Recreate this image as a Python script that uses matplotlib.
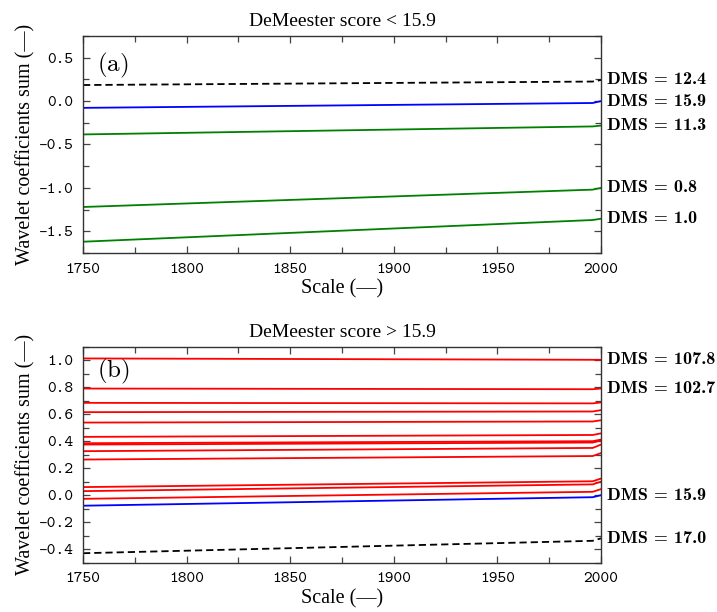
import matplotlib
matplotlib.use('Agg')
import matplotlib.pyplot as plt
from matplotlib.ticker import MultipleLocator, FormatStrFormatter

plt.rcParams['axes.unicode_minus'] = False
plt.rcParams['mathtext.fontset'] = 'cm'

# x positions (scale) at which values were read
scale = [1750, 1996, 2000]

# ---- panel (a): DeMeester score < 15.9 ----
a_dms124 = [0.185, 0.225, 0.243]
a_dms159 = [-0.078, -0.022, 0.0]
a_dms113 = [-0.384, -0.292, -0.282]
a_dms08 = [-1.22, -1.02, -1.0]
a_dms10 = [-1.62, -1.37, -1.355]

# ---- panel (b): DeMeester score > 15.9 ----
b_red_1078 = [1.013, 1.003, 1.003]
b_red_1027 = [0.79, 0.785, 0.79]
b_red_others = [
    [0.684, 0.680, 0.687],
    [0.615, 0.620, 0.630],
    [0.538, 0.546, 0.555],
    [0.432, 0.446, 0.458],
    [0.385, 0.400, 0.412],
    [0.375, 0.390, 0.405],
    [0.326, 0.350, 0.375],
    [0.264, 0.290, 0.312],
    [0.060, 0.103, 0.123],
    [0.030, 0.080, 0.100],
    [-0.027, 0.025, 0.045],
]
b_dms159 = [-0.078, -0.015, 0.0]
b_dms170 = [-0.43, -0.338, -0.32]

fig = plt.figure(figsize=(7.17, 6.12), dpi=100)
ax1 = fig.add_axes([0.1158, 0.5866, 0.7224, 0.3546])
ax2 = fig.add_axes([0.1158, 0.0806, 0.7224, 0.3529])

lw = 1.3
serif = 'Liberation Serif'


def style(ax, ymaj, ymin):
    ax.set_xlim(1750, 2000)
    ax.xaxis.set_major_locator(MultipleLocator(50))
    ax.xaxis.set_minor_locator(MultipleLocator(25))
    ax.yaxis.set_major_locator(MultipleLocator(ymaj))
    ax.yaxis.set_minor_locator(MultipleLocator(ymin))
    ax.yaxis.set_major_formatter(FormatStrFormatter('%.1f'))
    ax.tick_params(which='both', direction='in', top=True, right=True,
                   color='#444444', pad=7)
    ax.tick_params(which='major', length=5, width=0.9)
    ax.tick_params(which='minor', length=4, width=0.9)
    for sp in ax.spines.values():
        sp.set_color('#333333')
        sp.set_linewidth(1.0)
    ax.set_xlabel('Scale (—)', family=serif, fontsize=14.5, labelpad=2)
    ax.set_ylabel('Wavelet coefficients sum (—)', family=serif, fontsize=14.5, labelpad=2)


def tag(ax, y, text):
    ax.annotate(text, xy=(1, y),
                xycoords=('axes fraction', 'data'), xytext=(4.5, 0),
                textcoords='offset points', va='center', ha='left',
                fontsize=13, family='cmb10', annotation_clip=False)


# panel (a)
ax1.plot(scale, a_dms124, color='black', lw=lw, ls=(0, (4, 2.2)))
ax1.plot(scale, a_dms159, color='blue', lw=lw)
ax1.plot(scale, a_dms113, color='green', lw=lw)
ax1.plot(scale, a_dms08, color='green', lw=lw)
ax1.plot(scale, a_dms10, color='green', lw=lw)
ax1.set_ylim(-1.75, 0.75)
style(ax1, 0.5, 0.25)
ax1.set_title('DeMeester score < 15.9', family=serif, fontsize=14, pad=7)
ax1.text(0.027, 0.865, r'$\mathrm{(a)}$', transform=ax1.transAxes,
         fontsize=18, va='center', ha='left')
tag(ax1, a_dms124[-1], 'DMS = 12.4')
tag(ax1, a_dms159[-1], 'DMS = 15.9')
tag(ax1, a_dms113[-1], 'DMS = 11.3')
tag(ax1, a_dms08[-1], 'DMS = 0.8')
tag(ax1, a_dms10[-1], 'DMS = 1.0')

# panel (b)
ax2.plot(scale, b_red_1078, color='red', lw=lw)
ax2.plot(scale, b_red_1027, color='red', lw=lw)
for s in b_red_others:
    ax2.plot(scale, s, color='red', lw=lw)
ax2.plot(scale, b_dms159, color='blue', lw=lw)
ax2.plot(scale, b_dms170, color='black', lw=lw, ls=(0, (4, 2.2)))
ax2.set_ylim(-0.5, 1.1)
style(ax2, 0.2, 0.1)
ax2.set_title('DeMeester score > 15.9', family=serif, fontsize=14, pad=7)
ax2.text(0.027, 0.885, r'$\mathrm{(b)}$', transform=ax2.transAxes,
         fontsize=18, va='center', ha='left')
tag(ax2, b_red_1078[-1], 'DMS = 107.8')
tag(ax2, b_red_1027[-1], 'DMS = 102.7')
tag(ax2, b_dms159[-1], 'DMS = 15.9')
tag(ax2, b_dms170[-1], 'DMS = 17.0')

for ax in (ax1, ax2):
    for lab in ax.get_xticklabels() + ax.get_yticklabels():
        lab.set_fontfamily('cmtt10')
        lab.set_fontsize(12)

fig.savefig('out.png', dpi=100)
